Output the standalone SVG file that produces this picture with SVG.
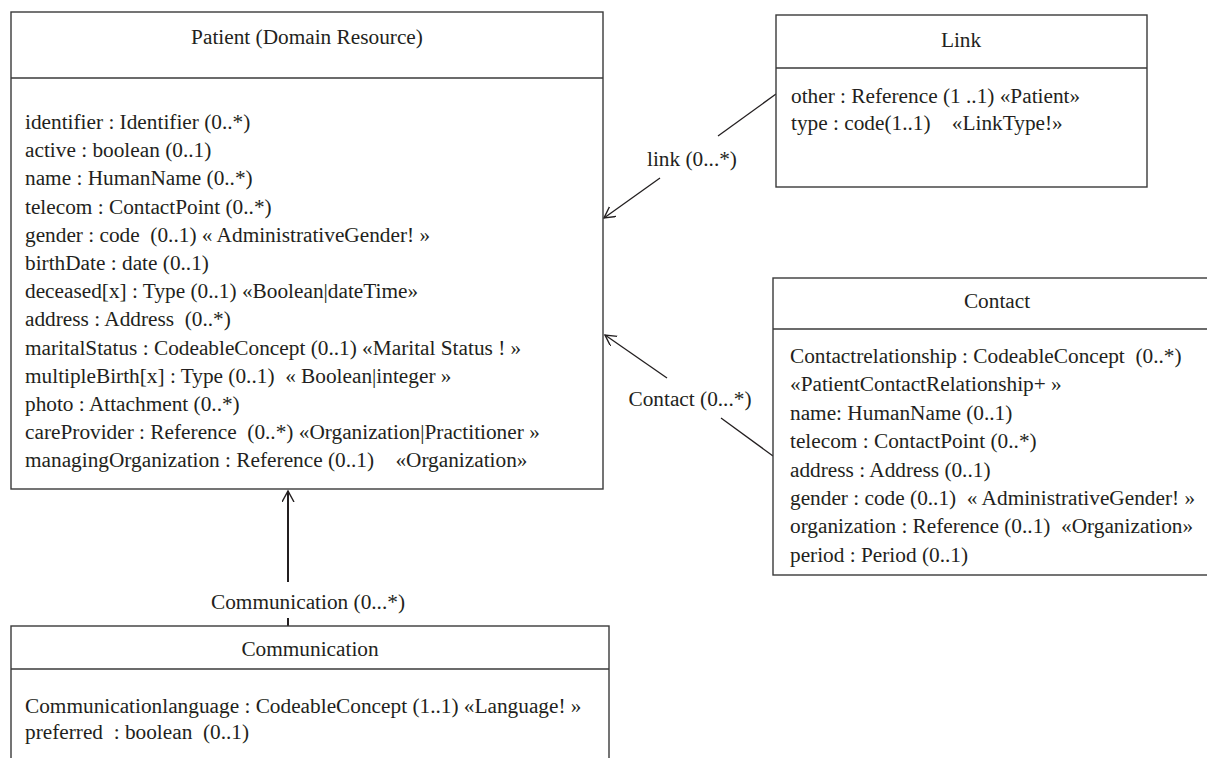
<svg xmlns="http://www.w3.org/2000/svg" width="1207" height="758" viewBox="0 0 1207 758">
<style>
.box{fill:#fff;stroke:#3a3a3a;stroke-width:1.4}
.div{stroke:#3a3a3a;stroke-width:1.4}
text{font-family:"Liberation Serif","Times New Roman",serif;font-size:21.3px;fill:#231f20;white-space:pre}
.t{text-anchor:middle}
.c{fill:none;stroke:#231f20;stroke-width:1.3}
.c2{fill:none;stroke:#231f20;stroke-width:2}
</style>
<defs>
<marker id="arr" markerUnits="userSpaceOnUse" markerWidth="14" markerHeight="14" refX="11" refY="6" orient="auto" viewBox="0 0 14 14">
<path d="M0,0 L11,6 L0,12" fill="none" stroke="#231f20" stroke-width="1.4"/>
</marker>
</defs>
<g id="connectors">
<line class="c" x1="776" y1="94" x2="718" y2="136"/>
<line class="c" x1="660" y1="178" x2="604" y2="218" marker-end="url(#arr)"/>
<text x="692" y="166" class="t">link (0...*)</text>
<line class="c" x1="773" y1="456" x2="721" y2="418"/>
<line class="c" x1="667" y1="378" x2="605" y2="335" marker-end="url(#arr)"/>
<text x="690" y="406" class="t">Contact (0...*)</text>
<line class="c2" x1="288" y1="582" x2="288" y2="491" marker-end="url(#arr)"/>
<line class="c2" x1="288" y1="618" x2="288" y2="627"/>
<text x="308" y="609" class="t">Communication (0...*)</text>
</g>
<g id="patient">
<rect class="box" x="11" y="12" width="592" height="477"/>
<line class="div" x1="11" y1="78" x2="603" y2="78"/>
<text x="307" y="44" class="t">Patient (Domain Resource)</text>
<text x="25" y="129">identifier : Identifier (0..*)</text>
<text x="25" y="157.2">active : boolean (0..1)</text>
<text x="25" y="185.4">name : HumanName (0..*)</text>
<text x="25" y="213.6">telecom : ContactPoint (0..*)</text>
<text x="25" y="241.8">gender : code  (0..1) « AdministrativeGender! »</text>
<text x="25" y="270">birthDate : date (0..1)</text>
<text x="25" y="298.2">deceased[x] : Type (0..1) «Boolean|dateTime»</text>
<text x="25" y="326.4">address : Address  (0..*)</text>
<text x="25" y="354.6">maritalStatus : CodeableConcept (0..1) «Marital Status ! »</text>
<text x="25" y="382.8">multipleBirth[x] : Type (0..1)  « Boolean|integer »</text>
<text x="25" y="411">photo : Attachment (0..*)</text>
<text x="25" y="439.2">careProvider : Reference  (0..*) «Organization|Practitioner »</text>
<text x="25" y="467.4">managingOrganization : Reference (0..1)    «Organization»</text>
</g>
<g id="link">
<rect class="box" x="776" y="15" width="371" height="172"/>
<line class="div" x1="776" y1="68" x2="1147" y2="68"/>
<text x="961" y="47" class="t">Link</text>
<text x="791" y="103">other : Reference (1 ..1) «Patient»</text>
<text x="791" y="130">type : code(1..1)    «LinkType!»</text>
</g>
<g id="contact">
<rect class="box" x="773" y="278" width="440" height="297"/>
<line class="div" x1="773" y1="329" x2="1207" y2="329"/>
<text x="997" y="308" class="t">Contact</text>
<text x="790" y="363">Contactrelationship : CodeableConcept  (0..*)</text>
<text x="790" y="391.4">«PatientContactRelationship+ »</text>
<text x="790" y="419.8">name: HumanName (0..1)</text>
<text x="790" y="448.2">telecom : ContactPoint (0..*)</text>
<text x="790" y="476.6">address : Address (0..1)</text>
<text x="790" y="505">gender : code (0..1)  « AdministrativeGender! »</text>
<text x="790" y="533.4">organization : Reference (0..1)  «Organization»</text>
<text x="790" y="561.8">period : Period (0..1)</text>
</g>
<g id="communication">
<rect class="box" x="11" y="626" width="598" height="150"/>
<line class="div" x1="11" y1="669" x2="609" y2="669"/>
<text x="310" y="656" class="t">Communication</text>
<text x="25" y="713">Communicationlanguage : CodeableConcept (1..1) «Language! »</text>
<text x="25" y="739">preferred  : boolean  (0..1)</text>
</g>
</svg>
